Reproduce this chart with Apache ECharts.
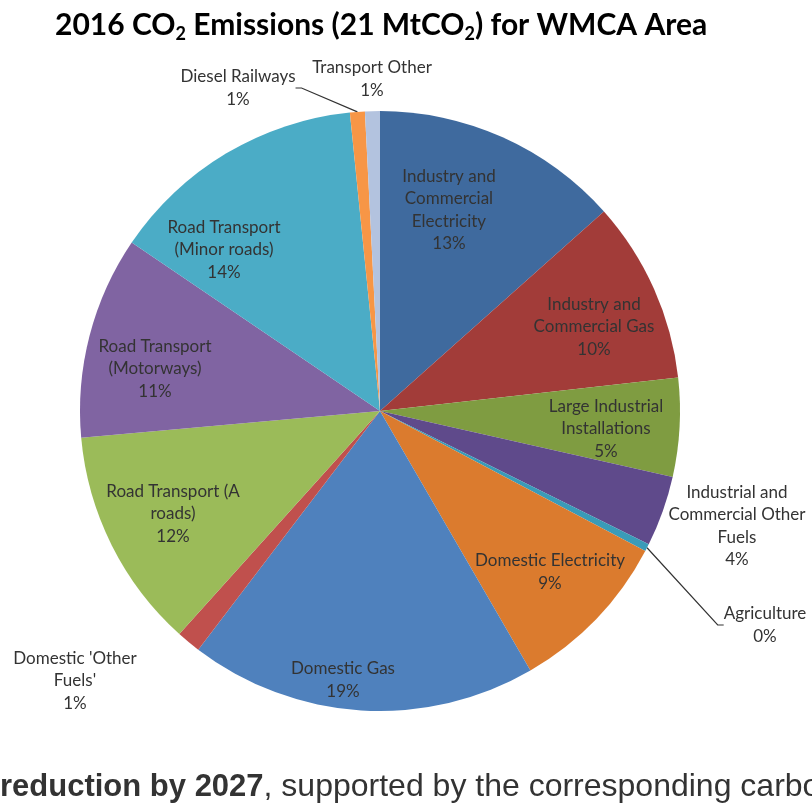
<!DOCTYPE html>
<html><head><meta charset="utf-8">
<script src="https://cdn.jsdelivr.net/npm/echarts@6/dist/echarts.min.js"></script>
<style>html,body{margin:0;padding:0;background:#fff}#c{width:812px;height:807px}</style>
</head><body><div id="c"></div>
<script>
// ---- data ----
const categories = [
  "Industry and Commercial Electricity",
  "Industry and Commercial Gas",
  "Large Industrial Installations",
  "Industrial and Commercial Other Fuels",
  "Agriculture",
  "Domestic Electricity",
  "Domestic Gas",
  "Domestic 'Other Fuels'",
  "Road Transport (A roads)",
  "Road Transport (Motorways)",
  "Road Transport (Minor roads)",
  "Diesel Railways",
  "Transport Other"
];
const values = [13.4, 9.8, 5.3, 3.8, 0.4, 8.9, 18.7, 1.3, 11.9, 10.9, 13.9, 0.8, 0.8];
const labelTexts = [
  "Industry and\nCommercial\nElectricity",
  "Industry and\nCommercial Gas",
  "Large Industrial\nInstallations",
  "Industrial and\nCommercial Other\nFuels",
  "Agriculture",
  "Domestic Electricity",
  "Domestic Gas",
  "Domestic 'Other\nFuels'",
  "Road Transport (A\nroads)",
  "Road Transport\n(Motorways)",
  "Road Transport\n(Minor roads)",
  "Diesel Railways",
  "Transport Other"
];
// ---- styles / layout ----
const colors = ["#3f6a9e", "#a23c39", "#7f9c41", "#5f4a8b", "#3a9bb8", "#db7b2e",
  "#4f81bd", "#c0504d", "#9bbb59", "#8064a2", "#4bacc6", "#f79646", "#b3c3df"];
const isOutside = [false, false, false, true, true, false, false, true, false, false, false, true, true];
const hasLine = [false, false, false, false, true, false, false, false, false, false, false, true, false];
const labelPos = [[449, 210], [594, 327], [606, 429], [737, 526], [765, 625], [550, 572],
  [343, 680], [75, 681], [173, 514], [155, 369], [224, 250], [238, 88], [372, 79]];

const chart = echarts.init(document.getElementById('c'), null, {renderer: 'canvas'});
chart.setOption({
  backgroundColor: '#fff',
  animation: false,
  title: {
    text: '2016 CO{s|2} Emissions (21 MtCO{s|2}) for WMCA Area',
    left: 50, top: 2,
    textStyle: {
      fontFamily: 'Lato', fontWeight: 'bold', fontSize: 30, color: '#000', lineHeight: 36,
      rich: {s: {fontFamily: 'Lato', fontWeight: 'bold', fontSize: 18, color: '#000', lineHeight: 12, verticalAlign: 'bottom'}}
    }
  },
  series: [{
    type: 'pie',
    center: [380, 411],
    radius: 300,
    startAngle: 90,
    clockwise: true,
    avoidLabelOverlap: false,
    silent: true,
    data: categories.map((n, i) => ({
      name: n, value: values[i],
      itemStyle: {color: colors[i]},
      label: {position: isOutside[i] ? 'outside' : 'inside'},
      labelLine: {show: hasLine[i]}
    })),
    label: {
      show: true,
      formatter: p => labelTexts[p.dataIndex] + '\n' + Math.round(p.percent) + '%',
      fontFamily: 'Lato', fontSize: 17, lineHeight: 22.5, color: '#333333', align: 'center'
    },
    labelLine: {length: 10, length2: 6, lineStyle: {color: '#333333', width: 1.2}},
    labelLayout: p => ({x: labelPos[p.dataIndex][0], y: labelPos[p.dataIndex][1], align: 'center', verticalAlign: 'middle'})
  }],
  graphic: [{
    type: 'text', left: 0, top: 771,
    style: {
      text: '{b|reduction by 2027}{n|, supported by the corresponding carbon}',
      rich: {
        b: {fontFamily: 'Liberation Sans', fontWeight: 'bold', fontSize: 31, fill: '#333'},
        n: {fontFamily: 'Liberation Sans', fontWeight: 'normal', fontSize: 32, fill: '#333'}
      }
    }
  }]
});
</script></body></html>
